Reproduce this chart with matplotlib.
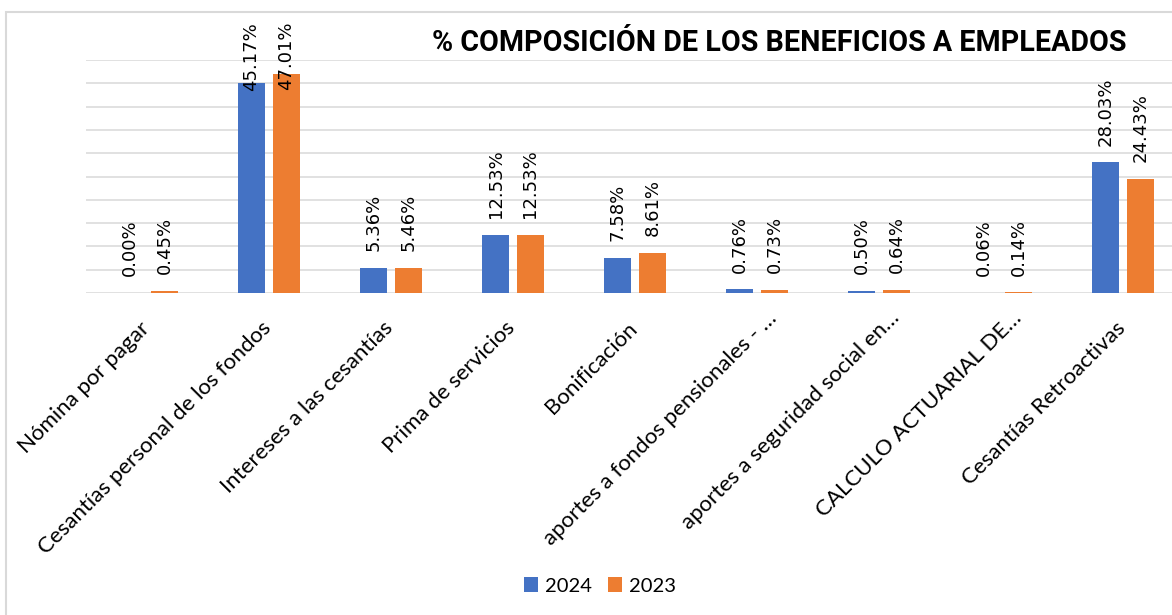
import matplotlib.pyplot as plt
import matplotlib.transforms as mtransforms
from matplotlib.patches import Rectangle
import numpy as np

# Data (% of total employee benefits)
categorias = ['Nómina por pagar', 'Cesantías personal de los fondos',
              'Intereses a las cesantías', 'Prima de servicios', 'Bonificación',
              'aportes a fondos pensionales - …', 'aportes a seguridad social en…',
              'CALCULO ACTUARIAL DE…', 'Cesantías Retroactivas']
valores_2024 = [0.00, 45.17, 5.36, 12.53, 7.58, 0.76, 0.50, 0.06, 28.03]
valores_2023 = [0.45, 47.01, 5.46, 12.53, 8.61, 0.73, 0.64, 0.14, 24.43]
series = ['2024', '2023']
colores = ['#4472C4', '#ED7D31']

W, H = 1172, 615
fig = plt.figure(figsize=(W / 100, H / 100), dpi=100)

# Plot area (Excel style, extends past right edge)
ax = fig.add_axes([86 / W, 322 / H, 1098 / W, 233 / H])
x = np.arange(len(categorias))
ancho = 0.221
desp = 0.143

for i, (vals, nombre, col) in enumerate(zip([valores_2024, valores_2023], series, colores)):
    xs = x - desp if i == 0 else x + desp
    ax.bar(xs, vals, ancho, color=col, label=nombre, zorder=3)
    # Data labels, pushed down when they would leave the chart
    techo = 58.2
    for xi, v in zip(xs, vals):
        txt = f'{v:.2f}%'
        if v + 19 > techo:
            ax.text(xi, techo, txt, rotation=90, ha='center', va='top',
                    fontsize=13, family='DejaVu Sans', zorder=5)
        else:
            ax.annotate(txt, (xi, v), xytext=(0, 12), textcoords='offset points',
                        rotation=90, ha='center', va='bottom',
                        fontsize=13, family='DejaVu Sans', zorder=5)

ax.set_xlim(-0.5, len(categorias) - 0.5)
ax.set_ylim(0, 50)
ax.set_yticks(np.arange(0, 51, 5))
ax.set_yticklabels([])
ax.tick_params(axis='y', length=0)
ax.grid(axis='y', color='#d9d9d9', lw=1.1, zorder=0)
for s in ax.spines.values():
    s.set_visible(False)

ax.set_xticks(x)
ax.set_xticklabels(categorias, rotation=45, ha='right', va='top',
                   rotation_mode='anchor', fontsize=16, family='Lato')
ax.tick_params(axis='x', length=0, pad=18)
# nudge labels; truncated ones (ending in …) sit further along the diagonal
for lbl in ax.get_xticklabels():
    if lbl.get_text().endswith('…'):
        dx, dy = 10, 10
    else:
        dx, dy = -8, 0
    lbl.set_transform(lbl.get_transform() +
                      mtransforms.ScaledTranslation(dx / 100, dy / 100, fig.dpi_scale_trans))

# Title
fig.text(432 / W, 1 - 43 / H, '% COMPOSICIÓN DE LOS BENEFICIOS A EMPLEADOS',
         fontsize=20.6, fontweight='bold', family='Roboto',
         ha='left', va='center')

# Legend
fig.legend(loc='center', bbox_to_anchor=(600 / W, 1 - 586 / H), ncol=2, frameon=False,
           handlelength=0.7, handleheight=0.7, columnspacing=0.75, handletextpad=0.35,
           prop={'family': 'Lato', 'size': 14.5})

# Chart border
fig.add_artist(Rectangle((6 / W, -0.1), 1.2, 1 - 12 / H + 0.1, transform=fig.transFigure,
                         fill=False, edgecolor='#d9d9d9', lw=1.5))

fig.savefig('out.png', dpi=100)
